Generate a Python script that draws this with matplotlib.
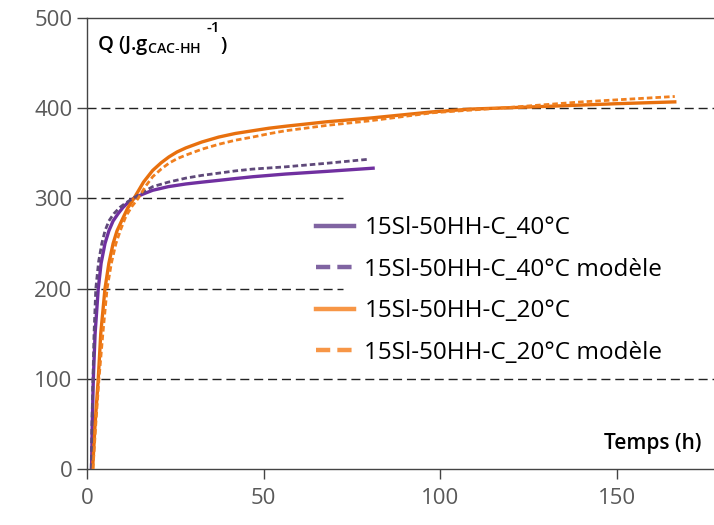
import matplotlib.pyplot as plt
from matplotlib.lines import Line2D

plt.rcParams['font.family'] = ['Open Sans', 'DejaVu Sans']
plt.rcParams['mathtext.fontset'] = 'custom'
plt.rcParams['mathtext.rm'] = 'Open Sans'

# values (time in h, heat in J/g)
t_40 = [1.3, 1.5, 1.8, 2.3, 3.2, 4.0, 5.1, 6.2, 7.4, 8.8, 10.2, 11.8, 13.6, 16.0, 18.6, 23.0, 28, 32.5, 37.3, 42, 46.9, 56.2, 68, 81]
q_40 = [0, 50, 100, 150, 200, 228, 250, 264, 275, 283, 290, 296, 301, 305, 309, 313, 316, 318, 320, 322, 324, 327, 330, 333.5]

t_40_mod = [1.2, 1.4, 1.7, 2.0, 2.5, 3.3, 4.2, 5.1, 6.2, 7.6, 9.3, 11.0, 13.0, 15.5, 18.6, 23.0, 28, 32.5, 37.3, 42, 46.9, 56.2, 68, 80]
q_40_mod = [0, 50, 100, 150, 200, 230, 250, 264, 275, 283, 290, 295, 300, 306, 313, 318, 322.5, 325.5, 328, 330.5, 332.5, 335, 339, 343.5]

t_20 = [1.6, 2.3, 3.2, 3.9, 5.1, 6.2, 7.4, 8.5, 9.8, 11.5, 13.6, 16.0, 18.6, 21, 23.2, 25.5, 28, 32.5, 37.3, 42, 46.9, 51.5, 56.2, 68, 80, 98, 108.5, 130, 150, 166.4]
q_20 = [0, 50, 100, 150, 200, 228, 250, 264, 275, 289, 302, 318, 331, 339.5, 346, 351.5, 356, 362.5, 368, 372, 375, 377.8, 380, 385, 389, 396, 399, 402, 405, 407]

t_20_mod = [1.7, 2.5, 3.4, 4.5, 5.7, 6.9, 8.2, 9.6, 11.0, 12.7, 14.5, 16.5, 18.6, 21, 23.2, 25.5, 28, 32.5, 37.3, 42, 46.9, 51.5, 56.2, 68, 80, 98, 120, 140, 166.4]
q_20_mod = [0, 50, 100, 150, 200, 228, 250, 266, 280, 291, 300, 313, 324, 332.5, 339, 344, 348, 354.5, 360, 364.5, 368, 371.7, 375, 381, 386, 395, 401, 407, 413]

labels = ['15Sl-50HH-C_40°C', '15Sl-50HH-C_40°C modèle',
          '15Sl-50HH-C_20°C', '15Sl-50HH-C_20°C modèle']

fig = plt.figure(figsize=(7.14, 5.25), dpi=100)
ax = fig.add_axes([0.1218, 0.1067, 0.8782, 0.859])

# dashed gridlines, the ones behind the legend stop short of it
grid_dash = (0, (6.5, 3.5))
ax.hlines([100, 400], 0, 1, transform=ax.get_yaxis_transform(), colors='#222222',
          linestyles=grid_dash, linewidth=1.0, zorder=1)
ax.hlines([200, 300], 0, 72.5, colors='#222222', linestyles=grid_dash, linewidth=1.0, zorder=1)

model_dash = (0, (2.0, 1.1))
ax.plot(t_40, q_40, color='#7030A0', lw=2.4, zorder=3)
ax.plot(t_40_mod, q_40_mod, color='#5F497A', lw=2.0, ls=model_dash, zorder=4)
ax.plot(t_20, q_20, color='#E8700E', lw=2.4, zorder=3)
ax.plot(t_20_mod, q_20_mod, color='#F07F1E', lw=2.0, ls=model_dash, zorder=4)

handles = [Line2D([], [], color='#8064A2', lw=3.2),
           Line2D([], [], color='#8064A2', lw=3.2, ls=(0, (3.2, 1.6))),
           Line2D([], [], color='#F79646', lw=3.2),
           Line2D([], [], color='#F79646', lw=3.2, ls=(0, (3.2, 1.6)))]
ax.legend(handles, labels, loc='center left', bbox_to_anchor=(0.366, 0.396),
          frameon=False, fontsize=17.5, handlelength=1.55, handletextpad=0.42,
          labelspacing=0.72, borderaxespad=0, borderpad=0)

ax.set_xlim(0, 177.5)
ax.set_ylim(0, 500)
ax.set_xticks([0, 50, 100, 150])
ax.set_yticks([0, 100, 200, 300, 400, 500])
ax.tick_params(labelsize=16, labelcolor='#595959', color='#444444', length=7, width=1)
ax.tick_params(axis='x', pad=7)
ax.spines['right'].set_visible(False)
for s in ['left', 'bottom', 'top']:
    ax.spines[s].set_color('#444444')
    ax.spines[s].set_linewidth(1.0)

fig.text(0.136, 0.913, r'Q (J.g$_{\mathregular{CAC\text{-}HH}}$',
         fontsize=14.5, fontweight='semibold', va='center', ha='left')
fig.text(0.289, 0.946, '-1', fontsize=11, fontweight='semibold', va='center', ha='left')
fig.text(0.309, 0.913, ')', fontsize=14.5, fontweight='semibold', va='center', ha='left')
fig.text(0.983, 0.156, 'Temps (h)', fontsize=15, fontweight='semibold', ha='right', va='center')

fig.savefig('out.png', dpi=100)
